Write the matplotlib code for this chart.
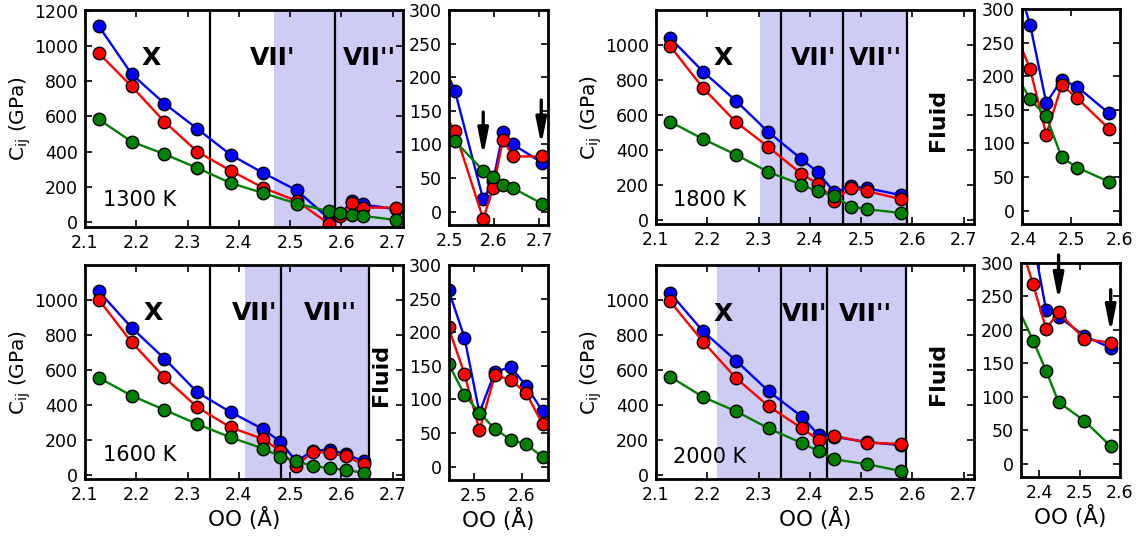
import matplotlib
matplotlib.use('Agg')
from matplotlib import pyplot as plt

plt.rcParams['font.family'] = ['DejaVu Sans']
plt.rcParams['mathtext.default'] = 'regular'

W, H = 1144, 542

# OO distance (A) and elastic constants (GPa) for the three series
x1300 = [2.127, 2.191, 2.255, 2.319, 2.384, 2.448, 2.513, 2.576, 2.598, 2.620, 2.642, 2.706]
b1300 = [1113, 841, 673, 530, 382, 278, 180, 18, 45, 118, 100, 73]
r1300 = [959, 771, 570, 400, 292, 194, 120, -11, 35, 107, 82, 82]
g1300 = [583, 457, 386, 307, 222, 164, 105, 61, 52, 40, 35, 12]

x1600 = [2.127, 2.191, 2.255, 2.319, 2.384, 2.448, 2.481, 2.512, 2.544, 2.577, 2.609, 2.643]
b1600 = [1050, 842, 666, 474, 361, 263, 192, 80, 141, 148, 120, 82]
r1600 = [1002, 759, 559, 389, 274, 207, 138, 54, 136, 129, 109, 63]
g1600 = [557, 455, 374, 293, 217, 153, 107, 80, 56, 40, 33, 14]

x1800 = [2.127, 2.192, 2.256, 2.319, 2.383, 2.415, 2.448, 2.480, 2.512, 2.577]
b1800 = [1042, 848, 682, 504, 352, 276, 160, 195, 184, 145]
r1800 = [996, 754, 561, 419, 267, 210, 113, 187, 167, 122]
g1800 = [564, 464, 375, 277, 205, 166, 140, 79, 64, 43]

x2000 = [2.127, 2.192, 2.256, 2.320, 2.385, 2.417, 2.448, 2.512, 2.577]
b2000 = [1042, 821, 655, 479, 334, 230, 220, 191, 173]
r2000 = [994, 762, 555, 394, 268, 202, 226, 186, 181]
g2000 = [564, 447, 366, 268, 184, 139, 92, 64, 26]

# phase boundaries: shaded span and vertical lines
shade = {1300: (2.469, 2.75), 1600: (2.412, 2.654), 1800: (2.302, 2.589), 2000: (2.219, 2.587)}
vlines = {1300: [2.344, 2.588], 1600: [2.343, 2.483, 2.654],
          1800: [2.344, 2.464, 2.589], 2000: [2.344, 2.434, 2.587]}

# phase label positions (x, y) in data coords
phase_txt = {
    1300: [('X', 2.228, 935), ("VII'", 2.466, 935), ("VII''", 2.655, 935)],
    1600: [('X', 2.232, 929), ("VII'", 2.431, 929), ("VII''", 2.578, 929)],
    1800: [('X', 2.230, 924), ("VII'", 2.407, 924), ("VII''", 2.527, 924)],
    2000: [('X', 2.230, 922), ("VII'", 2.389, 922), ("VII''", 2.509, 922)],
}
fluid_pos = {1600: (2.678, 571), 1800: (2.650, 574), 2000: (2.650, 579)}
temp_pos = {1300: (2.206, 123), 1600: (2.206, 119), 1800: (2.204, 119), 2000: (2.204, 107)}

# arrows in the zoomed panels: (x, y_start, y_tip)
arrows = {1300: [(2.576, 148, 83), (2.705, 166, 99)],
          2000: [(2.448, 312, 244), (2.577, 260, 196)]}

data = {1300: (x1300, b1300, r1300, g1300), 1600: (x1600, b1600, r1600, g1600),
        1800: (x1800, b1800, r1800, g1800), 2000: (x2000, b2000, r2000, g2000)}

# pixel boxes (left, top, right, bottom)
main_box = {1300: (85, 10, 403, 227), 1600: (85, 265, 403, 479),
            1800: (656, 10, 974, 224), 2000: (656, 265, 974, 479)}
small_box = {1300: (449, 10, 548, 225), 1600: (449, 265, 548, 480),
             1800: (1022, 9, 1120, 224), 2000: (1021, 263, 1120, 477)}
small_xlim = {1300: (2.5, 2.72), 1600: (2.449, 2.654), 1800: (2.398, 2.6), 2000: (2.355, 2.6)}
small_xticks = {1300: [2.5, 2.6, 2.7], 1600: [2.5, 2.6], 1800: [2.4, 2.5, 2.6], 2000: [2.4, 2.5, 2.6]}

SHADE = '#ccccf5'


def rect(l, t, r, b):
    return [l / W, 1 - b / H, (r - l) / W, (b - t) / H]


def style(ax):
    for s in ax.spines.values():
        s.set_linewidth(2)
    ax.tick_params(direction='in', top=True, right=True, length=5, width=1.2,
                   labelsize=12.5, pad=5)


def draw_series(ax, x, b, r, g):
    for y, c in [(b, 'blue'), (r, 'red'), (g, 'green')]:
        ax.plot(x, y, '-o', color=c, lw=1.7, ms=9, mfc=c, mec='black', mew=1)


fig = plt.figure(figsize=(W / 100, H / 100), dpi=100)

for T in [1300, 1600, 1800, 2000]:
    x, b, r, g = data[T]
    bottom_row = T in (1600, 2000)

    ax = fig.add_axes(rect(*main_box[T]))
    a0, a1 = shade[T]
    ax.axvspan(a0, a1, color=SHADE, lw=0, zorder=0)
    for v in vlines[T]:
        ax.axvline(v, color='black', lw=1.6, zorder=1)
    draw_series(ax, x, b, r, g)
    ax.set_xlim(2.1, 2.72)
    ax.set_xticks([2.1, 2.2, 2.3, 2.4, 2.5, 2.6, 2.7])
    if T == 1300:
        ax.set_ylim(-28, 1205)
        ax.set_yticks(range(0, 1201, 200))
    else:
        ax.set_ylim(-20, 1200)
        ax.set_yticks(range(0, 1001, 200))
    style(ax)
    ax.set_ylabel('C$_{ij}$ (GPa)', fontsize=14.5, labelpad=1)
    if bottom_row:
        ax.set_xlabel('OO (Å)', fontsize=15.5, labelpad=2)
    for s, tx, ty in phase_txt[T]:
        ax.text(tx, ty, s, fontsize=18, fontweight='bold', ha='center', va='center')
    if T in fluid_pos:
        fx, fy = fluid_pos[T]
        ax.text(fx, fy, 'Fluid', fontsize=16, fontweight='bold', rotation=90,
                ha='center', va='center')
    px, py = temp_pos[T]
    ax.text(px, py, f'{T} K', fontsize=15, ha='center', va='center')

    axs = fig.add_axes(rect(*small_box[T]))
    draw_series(axs, x, b, r, g)
    axs.set_xlim(*small_xlim[T])
    axs.set_xticks(small_xticks[T])
    axs.set_ylim(-20, 300)
    axs.set_yticks(range(0, 301, 50))
    style(axs)
    if bottom_row:
        axs.set_xlabel('OO (Å)', fontsize=15.5, labelpad=2)
    for ax_x, y0, y1 in arrows.get(T, []):
        axs.annotate('', xy=(ax_x, y1), xytext=(ax_x, y0), annotation_clip=False,
                     arrowprops=dict(arrowstyle='-|>,head_length=1.1,head_width=0.22',
                                     color='black', lw=2.4, mutation_scale=14,
                                     shrinkA=0, shrinkB=0))

fig.savefig('out.png', dpi=100)
